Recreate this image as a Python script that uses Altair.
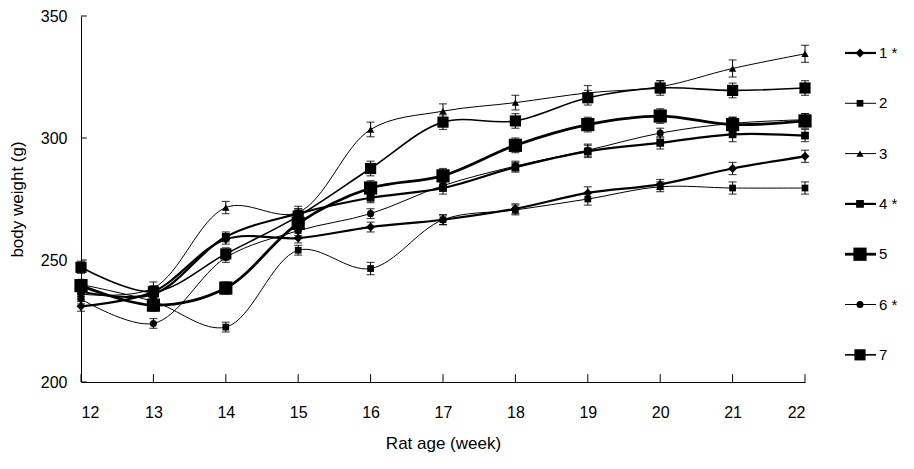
import altair as alt
import pandas as pd

weeks = [12, 13, 14, 15, 16, 17, 18, 19, 20, 21, 22]
series_names = ["1", "2", "3", "4", "5", "6", "7"]
legend_labels = ["1 *", "2", "3", "4 *", "5", "6 *", "7"]

s1 = [231.0, 237.0, 258.5, 259.0, 263.5, 266.5, 271.0, 277.5, 281.0, 287.5, 292.5]
s2 = [240.0, 233.0, 222.5, 254.0, 246.5, 266.5, 270.5, 275.0, 280.0, 279.5, 279.5]
s3 = [236.0, 238.5, 271.5, 269.5, 303.5, 311.0, 314.5, 318.5, 321.0, 328.5, 334.5]
s4 = [237.0, 236.0, 259.5, 269.0, 275.5, 279.5, 288.0, 294.5, 298.0, 301.5, 301.0]
s5 = [239.5, 231.5, 238.5, 265.0, 279.5, 284.5, 297.0, 305.5, 309.0, 305.5, 307.0]
s6 = [234.0, 224.0, 251.0, 262.0, 269.0, 280.5, 288.5, 295.0, 302.0, 306.0, 307.5]
s7 = [247.0, 237.0, 252.5, 268.0, 287.5, 306.5, 307.0, 316.5, 320.5, 319.5, 320.5]

e1 = [2.0, 2.0, 2.0, 2.0, 2.0, 2.0, 2.0, 2.5, 2.0, 2.5, 2.5]
e2 = [2.0, 2.0, 2.0, 2.0, 2.5, 2.0, 2.0, 2.5, 2.0, 2.5, 2.5]
e3 = [2.0, 2.5, 2.5, 2.5, 3.0, 3.0, 3.0, 3.0, 2.5, 3.5, 3.5]
e4 = [2.0, 2.0, 2.0, 2.0, 2.0, 2.5, 2.0, 2.5, 2.5, 3.0, 2.5]
e5 = [2.5, 2.5, 2.5, 3.0, 3.0, 3.0, 3.0, 3.0, 3.0, 3.0, 3.0]
e6 = [2.0, 2.0, 2.0, 2.0, 2.0, 2.0, 2.0, 2.5, 2.0, 2.5, 2.5]
e7 = [2.5, 2.5, 2.5, 3.0, 3.0, 3.0, 3.0, 3.0, 3.0, 3.0, 3.0]

shapes = ["diamond", "square", "triangle-up", "square", "square", "circle", "square"]
sizes = [80, 45, 55, 60, 175, 50, 125]
widths = [2.2, 1.0, 1.0, 2.2, 2.8, 1.0, 1.6]

x_ticks = [12, 13, 14, 15, 16, 17, 18, 19, 20, 21, 22]
y_ticks = [200, 250, 300, 350]

values = [s1, s2, s3, s4, s5, s6, s7]
errors = [e1, e2, e3, e4, e5, e6, e7]

rows = []
for name, vals, errs in zip(series_names, values, errors):
    for w, v, e in zip(weeks, vals, errs):
        rows.append({"series": name, "week": w, "weight": v, "lo": v - e, "hi": v + e})
df = pd.DataFrame(rows)

FONT = "Liberation Sans"

shape_scale = alt.Scale(type="ordinal", domain=series_names, range=shapes)
size_scale = alt.Scale(type="ordinal", domain=series_names, range=sizes)
width_scale = alt.Scale(type="ordinal", domain=series_names, range=widths)

xs = alt.Scale(domain=[12, 22], nice=False)
ys = alt.Scale(domain=[200, 350], nice=False)

base = alt.Chart(df)

lines = base.mark_line(interpolate="catmull-rom", color="black").encode(
    x=alt.X("week:Q", scale=xs, axis=alt.Axis(
        values=x_ticks, format="d", title="Rat age (week)", grid=False,
        tickSize=0, labelPadding=22, titlePadding=15, labelFontSize=16,
        titleFontSize=17, titleFontWeight="normal", domainColor="black",
        labelColor="black", titleColor="black", labelFont=FONT, titleFont=FONT)),
    y=alt.Y("weight:Q", scale=ys, axis=alt.Axis(
        values=y_ticks, title="body weight (g)", grid=False, tickSize=0,
        labelPadding=14, titlePadding=14, labelFontSize=16, titleFontSize=17,
        titleFontWeight="normal", domainColor="black", labelColor="black",
        titleColor="black", labelFont=FONT, titleFont=FONT)),
    detail="series:N",
    strokeWidth=alt.StrokeWidth("series:N", scale=width_scale, legend=None),
)

bars = base.mark_rule(color="black", strokeWidth=1).encode(
    x="week:Q", y="lo:Q", y2="hi:Q"
)
caps_hi = base.mark_tick(color="black", orient="horizontal", size=8, thickness=1.2).encode(
    x="week:Q", y="hi:Q"
)
caps_lo = base.mark_tick(color="black", orient="horizontal", size=8, thickness=1.2).encode(
    x="week:Q", y="lo:Q"
)

points = base.mark_point(filled=True, color="black", opacity=1).encode(
    x="week:Q",
    y="weight:Q",
    shape=alt.Shape("series:N", scale=shape_scale, legend=None),
    size=alt.Size("series:N", scale=size_scale, legend=None),
)

xt_df = pd.DataFrame({"week": x_ticks, "a": [200] * len(x_ticks), "b": [203.2] * len(x_ticks)})
x_tick_marks = alt.Chart(xt_df).mark_rule(color="black", strokeWidth=1).encode(
    x="week:Q", y="a:Q", y2="b:Q"
)
yt_df = pd.DataFrame({"w": y_ticks, "a": [12] * len(y_ticks), "b": [12.08] * len(y_ticks)})
y_tick_marks = alt.Chart(yt_df).mark_rule(color="black", strokeWidth=1).encode(
    y="w:Q", x="a:Q", x2="b:Q"
)

main = alt.layer(lines, bars, caps_hi, caps_lo, points, x_tick_marks, y_tick_marks).properties(
    width=724, height=366
)

leg_df = pd.DataFrame({
    "series": series_names,
    "label": legend_labels,
    "rank": list(range(len(series_names))),
    "x0": [7] * 7,
    "x1": [38] * 7,
    "xm": [22] * 7,
    "xt": [41] * 7,
})
ly = alt.Scale(domain=[-0.735, 6.54], reverse=True, nice=False)
lx = alt.Scale(domain=[0, 58], nice=False)
lbase = alt.Chart(leg_df)
leg_lines = lbase.mark_rule(color="black").encode(
    x=alt.X("x0:Q", scale=lx, axis=None), x2="x1:Q",
    y=alt.Y("rank:Q", scale=ly, axis=None),
    strokeWidth=alt.StrokeWidth("series:N", scale=width_scale, legend=None),
)
leg_pts = lbase.mark_point(filled=True, color="black", opacity=1).encode(
    x=alt.X("xm:Q", scale=lx, axis=None),
    y=alt.Y("rank:Q", scale=ly, axis=None),
    shape=alt.Shape("series:N", scale=shape_scale, legend=None),
    size=alt.Size("series:N", scale=size_scale, legend=None),
)
leg_text = lbase.mark_text(align="left", baseline="middle", fontSize=15, font=FONT, color="black").encode(
    x=alt.X("xt:Q", scale=lx, axis=None),
    y=alt.Y("rank:Q", scale=ly, axis=None),
    text="label:N",
)
legend = alt.layer(leg_lines, leg_pts, leg_text).properties(width=58, height=366)

chart = alt.hconcat(main, legend, spacing=26).properties(
    padding={"left": 0, "top": 0, "right": 0, "bottom": 3}
).configure(font=FONT).configure_view(stroke=None)

chart.save("out.html", embed_options={"renderer": "svg", "actions": False})
